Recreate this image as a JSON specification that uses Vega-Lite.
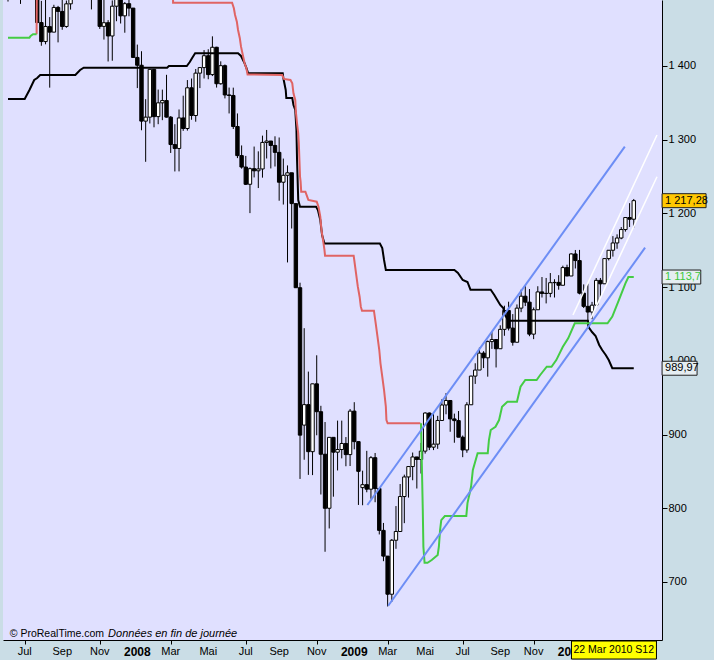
{
"$schema": "https://vega.github.io/schema/vega-lite/v6.json",
"width": 659, "height": 640,
"autosize": {"type": "none"},
"padding": {"left": 3, "top": 0, "right": 52, "bottom": 20},
"background": "#cadde6",
"config": {
 "view": {"fill": "#e0e0ff", "stroke": null},
 "font": "Liberation Sans",
 "axis": {"title": null, "grid": false, "domainColor": "#000000", "domainWidth": 1, "tickColor": "#000000", "tickWidth": 1, "labelColor": "#000000", "labelFont": "Liberation Sans", "labelFontSize": 11, "labelOverlap": false, "labelBound": false}
},
"datasets": {
 "candles": [
{"d":"2007-06-04","o":1536.3,"h":1540.5,"l":1487.4,"c":1507.7},
{"d":"2007-06-11","o":1507.7,"h":1534.3,"l":1492.7,"c":1532.9},
{"d":"2007-06-18","o":1532.9,"h":1540.2,"l":1500.7,"c":1502.6},
{"d":"2007-06-25","o":1502.6,"h":1514.3,"l":1484.2,"c":1503.4},
{"d":"2007-07-02","o":1504.7,"h":1532.4,"l":1504.7,"c":1530.4},
{"d":"2007-07-09","o":1530.4,"h":1555.1,"l":1510.2,"c":1552.5},
{"d":"2007-07-16","o":1552.5,"h":1556.0,"l":1529.0,"c":1534.1},
{"d":"2007-07-23","o":1534.1,"h":1538.0,"l":1458.0,"c":1458.9},
{"d":"2007-07-30","o":1458.9,"h":1488.3,"l":1427.4,"c":1433.1},
{"d":"2007-08-06","o":1433.1,"h":1503.9,"l":1429.4,"c":1453.6},
{"d":"2007-08-13","o":1453.4,"h":1466.3,"l":1370.6,"c":1445.9},
{"d":"2007-08-20","o":1445.9,"h":1483.0,"l":1445.9,"c":1479.4},
{"d":"2007-08-27","o":1479.4,"h":1481.5,"l":1432.0,"c":1474.0},
{"d":"2007-09-03","o":1474.0,"h":1496.4,"l":1449.1,"c":1453.6},
{"d":"2007-09-10","o":1453.6,"h":1488.7,"l":1451.8,"c":1484.3},
{"d":"2007-09-17","o":1484.3,"h":1538.7,"l":1476.5,"c":1525.8},
{"d":"2007-09-24","o":1525.8,"h":1533.7,"l":1507.0,"c":1526.8},
{"d":"2007-10-01","o":1526.8,"h":1561.9,"l":1522.0,"c":1557.6},
{"d":"2007-10-08","o":1557.6,"h":1576.1,"l":1548.0,"c":1561.8},
{"d":"2007-10-15","o":1561.8,"h":1564.7,"l":1500.6,"c":1500.6},
{"d":"2007-10-22","o":1500.6,"h":1535.5,"l":1476.7,"c":1535.3},
{"d":"2007-10-29","o":1535.3,"h":1552.8,"l":1501.5,"c":1509.7},
{"d":"2007-11-05","o":1509.7,"h":1524.0,"l":1450.3,"c":1453.7},
{"d":"2007-11-12","o":1453.7,"h":1492.1,"l":1435.8,"c":1458.7},
{"d":"2007-11-19","o":1458.7,"h":1462.2,"l":1406.1,"c":1440.7},
{"d":"2007-11-26","o":1440.7,"h":1488.9,"l":1407.1,"c":1481.1},
{"d":"2007-12-03","o":1481.1,"h":1508.0,"l":1460.7,"c":1504.7},
{"d":"2007-12-10","o":1504.7,"h":1523.6,"l":1457.6,"c":1468.0},
{"d":"2007-12-17","o":1468.0,"h":1486.7,"l":1445.1,"c":1484.5},
{"d":"2007-12-24","o":1484.5,"h":1498.9,"l":1467.4,"c":1478.5},
{"d":"2007-12-31","o":1478.5,"h":1478.5,"l":1411.2,"c":1411.6},
{"d":"2008-01-07","o":1411.6,"h":1429.0,"l":1370.0,"c":1401.0},
{"d":"2008-01-14","o":1401.0,"h":1420.0,"l":1312.8,"c":1325.2},
{"d":"2008-01-21","o":1325.2,"h":1355.0,"l":1270.0,"c":1330.6},
{"d":"2008-01-28","o":1330.6,"h":1396.0,"l":1322.0,"c":1395.4},
{"d":"2008-02-04","o":1395.4,"h":1396.0,"l":1316.8,"c":1331.3},
{"d":"2008-02-11","o":1331.3,"h":1368.0,"l":1321.0,"c":1350.0},
{"d":"2008-02-18","o":1350.0,"h":1367.9,"l":1326.5,"c":1353.1},
{"d":"2008-02-25","o":1353.1,"h":1388.0,"l":1330.0,"c":1330.6},
{"d":"2008-03-03","o":1330.6,"h":1332.0,"l":1282.0,"c":1293.4},
{"d":"2008-03-10","o":1293.4,"h":1321.0,"l":1256.9,"c":1288.1},
{"d":"2008-03-17","o":1288.1,"h":1341.0,"l":1257.0,"c":1329.5},
{"d":"2008-03-24","o":1329.5,"h":1359.7,"l":1312.0,"c":1315.2},
{"d":"2008-03-31","o":1315.2,"h":1380.9,"l":1312.3,"c":1370.4},
{"d":"2008-04-07","o":1370.4,"h":1383.0,"l":1327.0,"c":1332.8},
{"d":"2008-04-14","o":1332.8,"h":1395.9,"l":1324.4,"c":1390.3},
{"d":"2008-04-21","o":1390.3,"h":1397.9,"l":1370.0,"c":1397.8},
{"d":"2008-04-28","o":1397.8,"h":1421.6,"l":1383.0,"c":1413.9},
{"d":"2008-05-05","o":1413.9,"h":1422.7,"l":1382.0,"c":1388.3},
{"d":"2008-05-12","o":1388.3,"h":1440.2,"l":1386.3,"c":1425.4},
{"d":"2008-05-19","o":1425.4,"h":1426.0,"l":1370.7,"c":1375.9},
{"d":"2008-05-26","o":1375.9,"h":1406.3,"l":1374.6,"c":1400.4},
{"d":"2008-06-02","o":1400.4,"h":1402.0,"l":1356.0,"c":1360.7},
{"d":"2008-06-09","o":1360.7,"h":1370.7,"l":1335.6,"c":1360.0},
{"d":"2008-06-16","o":1360.0,"h":1370.6,"l":1314.5,"c":1317.9},
{"d":"2008-06-23","o":1317.9,"h":1335.6,"l":1275.0,"c":1278.4},
{"d":"2008-06-30","o":1278.4,"h":1292.2,"l":1260.7,"c":1262.9},
{"d":"2008-07-07","o":1262.9,"h":1278.0,"l":1238.5,"c":1239.5},
{"d":"2008-07-14","o":1239.5,"h":1262.3,"l":1200.4,"c":1260.7},
{"d":"2008-07-21","o":1260.7,"h":1290.7,"l":1248.8,"c":1257.8},
{"d":"2008-07-28","o":1257.8,"h":1284.2,"l":1234.4,"c":1260.3},
{"d":"2008-08-04","o":1260.3,"h":1305.5,"l":1248.5,"c":1296.3},
{"d":"2008-08-11","o":1296.3,"h":1313.2,"l":1274.5,"c":1298.2},
{"d":"2008-08-18","o":1298.2,"h":1298.2,"l":1261.0,"c":1292.2},
{"d":"2008-08-25","o":1292.2,"h":1304.6,"l":1263.6,"c":1282.8},
{"d":"2008-09-01","o":1282.8,"h":1303.0,"l":1217.2,"c":1242.3},
{"d":"2008-09-08","o":1242.3,"h":1274.4,"l":1212.0,"c":1251.7},
{"d":"2008-09-15","o":1251.7,"h":1265.1,"l":1133.5,"c":1255.1},
{"d":"2008-09-22","o":1255.1,"h":1255.1,"l":1179.5,"c":1213.3},
{"d":"2008-09-29","o":1213.3,"h":1213.3,"l":1099.0,"c":1099.2},
{"d":"2008-10-06","o":1099.2,"h":1106.0,"l":839.8,"c":899.2},
{"d":"2008-10-13","o":912.8,"h":1044.3,"l":865.8,"c":940.6},
{"d":"2008-10-20","o":940.6,"h":985.4,"l":845.3,"c":876.8},
{"d":"2008-10-27","o":876.8,"h":969.0,"l":845.0,"c":968.8},
{"d":"2008-11-03","o":968.8,"h":1007.5,"l":899.0,"c":931.0},
{"d":"2008-11-10","o":931.0,"h":939.0,"l":818.7,"c":873.3},
{"d":"2008-11-17","o":873.3,"h":917.0,"l":741.0,"c":800.0},
{"d":"2008-11-24","o":800.0,"h":896.2,"l":772.6,"c":896.2},
{"d":"2008-12-01","o":896.2,"h":896.2,"l":815.7,"c":876.1},
{"d":"2008-12-08","o":876.1,"h":918.9,"l":851.3,"c":879.7},
{"d":"2008-12-15","o":879.7,"h":918.9,"l":867.7,"c":887.9},
{"d":"2008-12-22","o":887.9,"h":896.6,"l":857.0,"c":872.8},
{"d":"2008-12-29","o":872.8,"h":934.7,"l":857.3,"c":931.8},
{"d":"2009-01-05","o":931.8,"h":943.9,"l":880.0,"c":890.4},
{"d":"2009-01-12","o":890.4,"h":890.4,"l":804.5,"c":850.1},
{"d":"2009-01-19","o":828.0,"h":851.0,"l":804.1,"c":832.0},
{"d":"2009-01-26","o":832.0,"h":877.9,"l":821.7,"c":825.9},
{"d":"2009-02-02","o":825.9,"h":870.8,"l":812.9,"c":868.6},
{"d":"2009-02-09","o":868.6,"h":875.0,"l":808.2,"c":826.8},
{"d":"2009-02-16","o":826.8,"h":827.0,"l":764.5,"c":770.0},
{"d":"2009-02-23","o":770.0,"h":780.1,"l":728.2,"c":735.1},
{"d":"2009-03-02","o":735.1,"h":735.1,"l":666.8,"c":683.4},
{"d":"2009-03-09","o":683.4,"h":758.3,"l":672.9,"c":756.6},
{"d":"2009-03-16","o":756.6,"h":803.0,"l":745.0,"c":768.5},
{"d":"2009-03-23","o":768.5,"h":832.9,"l":768.5,"c":815.9},
{"d":"2009-03-30","o":815.9,"h":845.6,"l":779.8,"c":842.5},
{"d":"2009-04-06","o":842.5,"h":856.9,"l":814.5,"c":856.6},
{"d":"2009-04-13","o":856.6,"h":875.6,"l":838.0,"c":869.6},
{"d":"2009-04-20","o":869.6,"h":869.6,"l":826.8,"c":866.2},
{"d":"2009-04-27","o":866.2,"h":888.7,"l":847.1,"c":877.5},
{"d":"2009-05-04","o":877.5,"h":930.2,"l":874.2,"c":929.2},
{"d":"2009-05-11","o":929.2,"h":930.0,"l":878.9,"c":882.9},
{"d":"2009-05-18","o":882.9,"h":930.5,"l":878.9,"c":887.0},
{"d":"2009-05-25","o":887.0,"h":925.4,"l":880.6,"c":919.1},
{"d":"2009-06-01","o":919.1,"h":947.8,"l":919.1,"c":940.1},
{"d":"2009-06-08","o":940.1,"h":956.2,"l":927.5,"c":946.2},
{"d":"2009-06-15","o":946.2,"h":946.2,"l":903.8,"c":921.2},
{"d":"2009-06-22","o":921.2,"h":928.4,"l":888.9,"c":918.9},
{"d":"2009-06-29","o":918.9,"h":931.9,"l":896.4,"c":896.4},
{"d":"2009-07-06","o":896.4,"h":898.7,"l":869.3,"c":879.1},
{"d":"2009-07-13","o":879.1,"h":943.9,"l":875.3,"c":940.4},
{"d":"2009-07-20","o":940.4,"h":979.8,"l":940.4,"c":979.3},
{"d":"2009-07-27","o":979.3,"h":996.7,"l":968.7,"c":987.5},
{"d":"2009-08-03","o":987.5,"h":1018.0,"l":987.5,"c":1010.5},
{"d":"2009-08-10","o":1010.5,"h":1013.1,"l":990.2,"c":1004.1},
{"d":"2009-08-17","o":1004.1,"h":1027.6,"l":978.5,"c":1026.1},
{"d":"2009-08-24","o":1026.1,"h":1039.5,"l":1016.2,"c":1028.9},
{"d":"2009-08-31","o":1028.9,"h":1028.9,"l":991.0,"c":1016.4},
{"d":"2009-09-07","o":1016.4,"h":1048.2,"l":1016.4,"c":1042.7},
{"d":"2009-09-14","o":1042.7,"h":1074.8,"l":1034.0,"c":1068.3},
{"d":"2009-09-21","o":1068.3,"h":1080.2,"l":1041.2,"c":1044.4},
{"d":"2009-09-28","o":1044.4,"h":1063.4,"l":1020.6,"c":1025.2},
{"d":"2009-10-05","o":1025.2,"h":1076.5,"l":1025.2,"c":1071.5},
{"d":"2009-10-12","o":1071.5,"h":1096.6,"l":1066.0,"c":1087.7},
{"d":"2009-10-19","o":1087.7,"h":1101.4,"l":1074.3,"c":1079.6},
{"d":"2009-10-26","o":1079.6,"h":1097.4,"l":1033.4,"c":1036.2},
{"d":"2009-11-02","o":1036.2,"h":1072.4,"l":1029.4,"c":1069.3},
{"d":"2009-11-09","o":1069.3,"h":1101.2,"l":1069.3,"c":1093.5},
{"d":"2009-11-16","o":1093.5,"h":1113.7,"l":1085.9,"c":1091.4},
{"d":"2009-11-23","o":1091.4,"h":1112.4,"l":1077.9,"c":1091.5},
{"d":"2009-11-30","o":1091.5,"h":1119.1,"l":1086.3,"c":1106.0},
{"d":"2009-12-07","o":1106.0,"h":1110.7,"l":1085.9,"c":1106.4},
{"d":"2009-12-14","o":1106.4,"h":1116.2,"l":1096.5,"c":1102.5},
{"d":"2009-12-21","o":1102.5,"h":1129.1,"l":1102.5,"c":1126.5},
{"d":"2009-12-28","o":1126.5,"h":1130.4,"l":1114.8,"c":1115.1},
{"d":"2010-01-04","o":1115.1,"h":1145.9,"l":1115.1,"c":1145.0},
{"d":"2010-01-11","o":1145.0,"h":1150.4,"l":1125.3,"c":1136.0},
{"d":"2010-01-18","o":1136.0,"h":1150.5,"l":1090.2,"c":1091.8},
{"d":"2010-01-25","o":1091.8,"h":1103.7,"l":1071.6,"c":1073.9},
{"d":"2010-02-01","o":1073.9,"h":1104.7,"l":1044.5,"c":1066.2},
{"d":"2010-02-08","o":1066.2,"h":1080.0,"l":1056.5,"c":1075.5},
{"d":"2010-02-15","o":1075.5,"h":1112.4,"l":1075.5,"c":1109.2},
{"d":"2010-02-22","o":1109.2,"h":1112.4,"l":1086.0,"c":1104.5},
{"d":"2010-03-01","o":1104.5,"h":1139.0,"l":1104.5,"c":1138.7},
{"d":"2010-03-08","o":1138.7,"h":1150.2,"l":1136.2,"c":1150.0},
{"d":"2010-03-15","o":1150.0,"h":1169.2,"l":1141.4,"c":1159.9},
{"d":"2010-03-22","o":1159.9,"h":1171.6,"l":1152.0,"c":1166.6},
{"d":"2010-03-29","o":1166.6,"h":1181.4,"l":1165.0,"c":1178.1},
{"d":"2010-04-05","o":1178.1,"h":1194.7,"l":1175.3,"c":1194.4},
{"d":"2010-04-12","o":1194.4,"h":1213.9,"l":1181.6,"c":1192.1},
{"d":"2010-04-19","o":1192.1,"h":1219.6,"l":1180.7,"c":1217.3}
 ],
 "black": [
{"d":"2007-06-04","v":1355.2},{"d":"2007-07-02","v":1355.2},{"d":"2007-07-10","v":1367.4},{"d":"2007-07-18","v":1381},{"d":"2007-07-23","v":1383.7},{"d":"2007-07-28","v":1387.8},{"d":"2007-09-25","v":1387.8},{"d":"2007-10-03","v":1394.6},{"d":"2007-10-09","v":1397.7},{"d":"2008-02-26","v":1397.7},{"d":"2008-02-29","v":1400},{"d":"2008-03-30","v":1400},{"d":"2008-04-04","v":1405.4},{"d":"2008-04-08","v":1410.9},{"d":"2008-04-13","v":1417.2},{"d":"2008-06-24","v":1417.2},{"d":"2008-06-29","v":1413.6},{"d":"2008-07-04","v":1405.4},{"d":"2008-07-08","v":1397.3},{"d":"2008-07-11","v":1390},{"d":"2008-09-07","v":1390},{"d":"2008-09-08","v":1383.7},{"d":"2008-09-12","v":1367.4},{"d":"2008-09-13","v":1356.6},{"d":"2008-09-23","v":1356.6},{"d":"2008-09-25","v":1347},{"d":"2008-09-28","v":1340.3},{"d":"2008-09-30","v":1313.2},{"d":"2008-10-01","v":1272.5},{"d":"2008-10-03","v":1218.2},{"d":"2008-10-06","v":1209.1},{"d":"2008-11-02","v":1209.1},{"d":"2008-11-05","v":1204.6},{"d":"2008-11-09","v":1191},{"d":"2008-11-12","v":1170.7},{"d":"2008-11-16","v":1159.2},{"d":"2009-02-17","v":1159.2},{"d":"2009-02-21","v":1153},{"d":"2009-02-24","v":1136.8},{"d":"2009-02-27","v":1123.2},{"d":"2009-06-22","v":1123.2},{"d":"2009-06-28","v":1119.2},{"d":"2009-07-06","v":1109.7},{"d":"2009-07-14","v":1107},{"d":"2009-07-19","v":1096.5},{"d":"2009-08-22","v":1096.5},{"d":"2009-08-28","v":1089.3},{"d":"2009-09-02","v":1082.5},{"d":"2009-09-07","v":1075.8},{"d":"2009-09-12","v":1071.7},{"d":"2009-09-15","v":1062.2},{"d":"2009-09-21","v":1054.5},{"d":"2010-02-01","v":1054.5},{"d":"2010-02-03","v":1044.6},{"d":"2010-02-08","v":1039.1},{"d":"2010-02-14","v":1033.7},{"d":"2010-02-20","v":1021.5},{"d":"2010-02-25","v":1014.7},{"d":"2010-03-03","v":1007.9},{"d":"2010-03-08","v":1001.1},{"d":"2010-03-14","v":989.97},{"d":"2010-04-19","v":989.97}
 ],
 "red": [
{"d":"2007-07-22","v":1443},{"d":"2007-07-23","v":1600},{"d":"2008-03-06","v":1600},{"d":"2008-03-07","v":1485.9},{"d":"2008-06-14","v":1485.9},{"d":"2008-06-17","v":1478.3},{"d":"2008-06-19","v":1469.2},{"d":"2008-06-22","v":1460.1},{"d":"2008-06-24","v":1448.8},{"d":"2008-06-27","v":1437.6},{"d":"2008-06-29","v":1426.2},{"d":"2008-07-02","v":1414.9},{"d":"2008-07-05","v":1403.7},{"d":"2008-07-08","v":1396.9},{"d":"2008-07-10","v":1388.5},{"d":"2008-09-06","v":1387.8},{"d":"2008-09-09","v":1382.4},{"d":"2008-09-20","v":1381},{"d":"2008-09-23","v":1376.5},{"d":"2008-09-25","v":1363},{"d":"2008-09-28","v":1353.9},{"d":"2008-09-29","v":1338},{"d":"2008-10-01","v":1322.3},{"d":"2008-10-03","v":1308.7},{"d":"2008-10-04","v":1295.1},{"d":"2008-10-05","v":1272.5},{"d":"2008-10-06","v":1250},{"d":"2008-10-07","v":1243},{"d":"2008-10-08","v":1229.5},{"d":"2008-10-15","v":1229.5},{"d":"2008-10-18","v":1222.7},{"d":"2008-10-20","v":1218.2},{"d":"2008-11-03","v":1215.9},{"d":"2008-11-06","v":1209.1},{"d":"2008-11-09","v":1195.6},{"d":"2008-11-11","v":1177.5},{"d":"2008-11-14","v":1161.6},{"d":"2008-11-16","v":1150.4},{"d":"2008-11-17","v":1142.6},{"d":"2009-01-04","v":1142.6},{"d":"2009-01-05","v":1136.8},{"d":"2009-01-08","v":1118.8},{"d":"2009-01-11","v":1100.6},{"d":"2009-01-14","v":1087},{"d":"2009-01-16","v":1073.5},{"d":"2009-01-18","v":1068},{"d":"2009-02-07","v":1068},{"d":"2009-02-10","v":1050.9},{"d":"2009-02-13","v":1032.7},{"d":"2009-02-16","v":1014.7},{"d":"2009-02-18","v":996.7},{"d":"2009-02-21","v":978.5},{"d":"2009-02-24","v":960.4},{"d":"2009-02-27","v":937.8},{"d":"2009-02-28","v":919.7},{"d":"2009-03-02","v":915.3},{"d":"2009-04-26","v":915.3}
 ],
 "green": [
{"s":"a","d":"2007-06-04","v":1438.4},{"s":"a","d":"2007-07-10","v":1438.4},{"s":"a","d":"2007-07-12","v":1440.8},{"s":"a","d":"2007-07-16","v":1443},{"s":"a","d":"2007-07-22","v":1443},
{"s":"b","d":"2009-04-27","v":915.3},{"s":"b","d":"2009-04-30","v":797.6},{"s":"b","d":"2009-05-01","v":747.8},{"s":"b","d":"2009-05-03","v":726.1},{"s":"b","d":"2009-05-08","v":726.1},{"s":"b","d":"2009-05-15","v":729.8},{"s":"b","d":"2009-05-25","v":736.6},{"s":"b","d":"2009-05-27","v":747.8},{"s":"b","d":"2009-05-29","v":770.5},{"s":"b","d":"2009-05-31","v":784},{"s":"b","d":"2009-06-06","v":789.5},{"s":"b","d":"2009-07-12","v":789.5},{"s":"b","d":"2009-07-14","v":807.1},{"s":"b","d":"2009-07-20","v":829.2},{"s":"b","d":"2009-07-23","v":851.9},{"s":"b","d":"2009-07-31","v":874.6},{"s":"b","d":"2009-08-17","v":874.6},{"s":"b","d":"2009-08-19","v":892.6},{"s":"b","d":"2009-08-22","v":906.2},{"s":"b","d":"2009-08-30","v":910.6},{"s":"b","d":"2009-09-05","v":919.7},{"s":"b","d":"2009-09-10","v":937.8},{"s":"b","d":"2009-09-19","v":944.6},{"s":"b","d":"2009-10-05","v":944.6},{"s":"b","d":"2009-10-11","v":964.9},{"s":"b","d":"2009-10-19","v":974},{"s":"b","d":"2009-11-07","v":974},{"s":"b","d":"2009-11-13","v":980.8},{"s":"b","d":"2009-11-24","v":992},{"s":"b","d":"2009-12-02","v":992},{"s":"b","d":"2009-12-10","v":1001},{"s":"b","d":"2009-12-21","v":1019},{"s":"b","d":"2009-12-30","v":1030.6},{"s":"b","d":"2010-01-10","v":1051},{"s":"b","d":"2010-03-06","v":1051},{"s":"b","d":"2010-03-14","v":1060},{"s":"b","d":"2010-03-25","v":1082.5},{"s":"b","d":"2010-04-05","v":1105},{"s":"b","d":"2010-04-10","v":1113.7},{"s":"b","d":"2010-04-19","v":1113.7}
 ],
 "channel": [
{"s":"up","d":"2009-01-27","v":804.4},{"s":"up","d":"2010-04-04","v":1290.5},
{"s":"lo","d":"2009-03-03","v":667.8},{"s":"lo","d":"2010-05-08","v":1153.5}
 ],
 "white": [
{"s":"up","d":"2010-01-07","v":1062.2},{"s":"up","d":"2010-05-28","v":1306.4},
{"s":"lo","d":"2010-02-06","v":1058},{"s":"lo","d":"2010-05-28","v":1249.8}
 ],
 "lastvals": [
{"name":"close","label":"1 217,28","v":1217.28},
{"name":"green","label":"1 113,7","v":1113.7},
{"name":"stop","label":"989,97","v":989.97}
 ],
 "xlabels": [
{"d":"2007-07-02","t":"Jul","k":"m"},{"d":"2007-09-03","t":"Sep","k":"m"},{"d":"2007-11-05","t":"Nov","k":"m"},{"d":"2008-01-07","t":"2008","k":"y"},{"d":"2008-03-03","t":"Mar","k":"m"},{"d":"2008-05-05","t":"Mai","k":"m"},{"d":"2008-07-07","t":"Jul","k":"m"},{"d":"2008-09-01","t":"Sep","k":"m"},{"d":"2008-11-03","t":"Nov","k":"m"},{"d":"2009-01-05","t":"2009","k":"y"},{"d":"2009-03-02","t":"Mar","k":"m"},{"d":"2009-05-04","t":"Mai","k":"m"},{"d":"2009-07-06","t":"Jul","k":"m"},{"d":"2009-09-07","t":"Sep","k":"m"},{"d":"2009-11-02","t":"Nov","k":"m"},{"d":"2010-01-04","t":"2010","k":"y"}
 ],
 "one": [{}]
},
"layer": [
 {
  "data": {"name": "candles"},
  "mark": {"type": "rule", "color": "#000000", "strokeWidth": 1, "clip": true},
  "encoding": {
   "x": {"field": "d", "type": "temporal",
    "scale": {"type": "utc", "domain": [{"year":2007,"month":6,"date":4,"utc":true},{"year":2010,"month":5,"date":28,"utc":true}], "nice": false},
    "axis": {"orient": "bottom", "tickSize": 4, "labels": false,
     "values": [{"year":2007,"month":7,"date":2,"utc":true},{"year":2007,"month":9,"date":3,"utc":true},{"year":2007,"month":11,"date":5,"utc":true},{"year":2008,"month":1,"date":7,"utc":true},{"year":2008,"month":3,"date":3,"utc":true},{"year":2008,"month":5,"date":5,"utc":true},{"year":2008,"month":7,"date":7,"utc":true},{"year":2008,"month":9,"date":1,"utc":true},{"year":2008,"month":11,"date":3,"utc":true},{"year":2009,"month":1,"date":5,"utc":true},{"year":2009,"month":3,"date":2,"utc":true},{"year":2009,"month":5,"date":4,"utc":true},{"year":2009,"month":7,"date":6,"utc":true},{"year":2009,"month":9,"date":7,"utc":true},{"year":2009,"month":11,"date":2,"utc":true},{"year":2010,"month":1,"date":4,"utc":true},{"year":2010,"month":3,"date":1,"utc":true},{"year":2010,"month":5,"date":3,"utc":true}]
    }},
   "y": {"field": "l", "type": "quantitative",
    "scale": {"domain": [621.3, 1489.5], "nice": false, "zero": false},
    "axis": {"orient": "right", "tickSize": 5, "labelPadding": 1,
     "values": [700,800,900,1000,1100,1200,1300,1400],
     "labelExpr": "replace(format(datum.value, ','), ',', ' ')"}},
   "y2": {"field": "h"}
  }
 },
 {
  "data": {"name": "candles"},
  "mark": {"type": "bar", "width": 3.4, "stroke": "#000000", "strokeWidth": 1, "clip": true},
  "encoding": {
   "x": {"field": "d", "type": "temporal"},
   "y": {"field": "o", "type": "quantitative"},
   "y2": {"field": "c"},
   "fill": {"condition": {"test": "datum.c >= datum.o", "value": "#ffffff"}, "value": "#000000"}
  }
 },
 {
  "data": {"name": "black"},
  "mark": {"type": "line", "color": "#000000", "strokeWidth": 2, "clip": true},
  "encoding": {"x": {"field": "d", "type": "temporal"}, "y": {"field": "v", "type": "quantitative"}}
 },
 {
  "data": {"name": "red"},
  "mark": {"type": "line", "color": "#e06464", "strokeWidth": 2, "clip": true},
  "encoding": {"x": {"field": "d", "type": "temporal"}, "y": {"field": "v", "type": "quantitative"}}
 },
 {
  "data": {"name": "green"},
  "mark": {"type": "line", "color": "#44cc44", "strokeWidth": 2, "clip": true},
  "encoding": {"x": {"field": "d", "type": "temporal"}, "y": {"field": "v", "type": "quantitative"}, "detail": {"field": "s"}}
 },
 {
  "data": {"name": "channel"},
  "mark": {"type": "line", "color": "#6d8ef5", "strokeWidth": 2, "clip": true},
  "encoding": {"x": {"field": "d", "type": "temporal"}, "y": {"field": "v", "type": "quantitative"}, "detail": {"field": "s"}}
 },
 {
  "data": {"name": "white"},
  "mark": {"type": "line", "color": "#ffffff", "strokeWidth": 1.5, "clip": true},
  "encoding": {"x": {"field": "d", "type": "temporal"}, "y": {"field": "v", "type": "quantitative"}, "detail": {"field": "s"}}
 },
 {
  "mark": {"type": "rule", "color": "#1a0a96", "strokeWidth": 2, "strokeDash": [13, 11]},
  "encoding": {"y": {"datum": 1217.28, "type": "quantitative"}}
 },
 {
  "mark": {"type": "rule", "color": "#2b2bb5", "strokeWidth": 1, "strokeDash": [2, 2]},
  "encoding": {"x": {"datum": {"year":2009,"month":11,"date":30,"utc":true}, "type": "temporal"}}
 },
 {
  "mark": {"type": "rule", "color": "#e84444", "strokeWidth": 1, "strokeDash": [3, 3]},
  "encoding": {"x": {"datum": {"year":2010,"month":3,"date":1,"utc":true}, "type": "temporal"}}
 },
 {
  "mark": {"type": "rule", "color": "#3a4a50", "strokeWidth": 1},
  "encoding": {"x": {"datum": {"year":2007,"month":6,"date":4,"utc":true}, "type": "temporal"}}
 },
 {
  "data": {"name": "one"},
  "mark": {"type": "text", "align": "left", "baseline": "alphabetic", "fontSize": 10.5, "color": "#000000", "text": "© ProRealTime.com"},
  "encoding": {"x": {"datum": {"year":2007,"month":6,"date":7,"utc":true}, "type": "temporal"}, "y": {"datum": 625.3, "type": "quantitative"}}
 },
 {
  "data": {"name": "one"},
  "mark": {"type": "text", "align": "left", "baseline": "alphabetic", "fontSize": 11, "fontStyle": "italic", "color": "#000000", "text": "Données en fin de journée"},
  "encoding": {"x": {"datum": {"year":2007,"month":11,"date":19,"utc":true}, "type": "temporal"}, "y": {"datum": 625.3, "type": "quantitative"}}
 },
 {
  "data": {"name": "xlabels"},
  "transform": [{"filter": "datum.k == 'm'"}],
  "mark": {"type": "text", "align": "center", "baseline": "middle", "fontSize": 11, "color": "#000000"},
  "encoding": {"x": {"field": "d", "type": "temporal"}, "y": {"datum": 605, "type": "quantitative"}, "text": {"field": "t"}}
 },
 {
  "data": {"name": "xlabels"},
  "transform": [{"filter": "datum.k == 'y'"}],
  "mark": {"type": "text", "align": "center", "baseline": "middle", "fontSize": 12, "fontWeight": "bold", "color": "#000000"},
  "encoding": {"x": {"field": "d", "type": "temporal"}, "y": {"datum": 605, "type": "quantitative"}, "text": {"field": "t"}}
 },
 {
  "data": {"name": "lastvals"},
  "mark": {"type": "point", "filled": true, "size": 1936, "stroke": "#202020", "strokeWidth": 1, "opacity": 1},
  "encoding": {
   "x": {"datum": {"year":2010,"month":6,"date":5,"hours":12,"utc":true}, "type": "temporal"},
   "y": {"field": "v", "type": "quantitative"},
   "shape": {"field": "name", "type": "nominal", "legend": null, "scale": {"domain": ["close","green","stop"], "range": ["M0,-0.318H2V0.318H0Z","M0,-0.318H1.759V0.318H0Z","M0,-0.318H1.591V0.318H0Z"]}},
   "fill": {"field": "name", "type": "nominal", "legend": null, "scale": {"domain": ["close","green","stop"], "range": ["#ffc800","#e6eef2","#e6eef2"]}}
  }
 },
 {
  "data": {"name": "lastvals"},
  "mark": {"type": "text", "align": "left", "baseline": "middle", "dx": 3, "fontSize": 11},
  "encoding": {
   "x": {"datum": {"year":2010,"month":6,"date":5,"hours":12,"utc":true}, "type": "temporal"},
   "y": {"field": "v", "type": "quantitative"},
   "text": {"field": "label"},
   "color": {"field": "name", "type": "nominal", "legend": null, "scale": {"domain": ["close","green","stop"], "range": ["#000000","#3cc83c","#000000"]}}
  }
 },
 {
  "data": {"name": "one"},
  "mark": {"type": "point", "filled": true, "size": 7225, "shape": "M0,-0.212H2V0.212H0Z", "fill": "#ffff00", "stroke": "#000000", "strokeWidth": 1, "opacity": 1},
  "encoding": {
   "x": {"datum": {"year":2010,"month":1,"date":4,"hours":11,"utc":true}, "type": "temporal"},
   "y": {"datum": 607.7, "type": "quantitative"}
  }
 },
 {
  "data": {"name": "one"},
  "mark": {"type": "text", "align": "left", "baseline": "middle", "dx": 2, "fontSize": 10.5, "color": "#000000", "text": "22 Mar 2010 S12"},
  "encoding": {
   "x": {"datum": {"year":2010,"month":1,"date":4,"hours":11,"utc":true}, "type": "temporal"},
   "y": {"datum": 607.7, "type": "quantitative"}
  }
 }
]
}
